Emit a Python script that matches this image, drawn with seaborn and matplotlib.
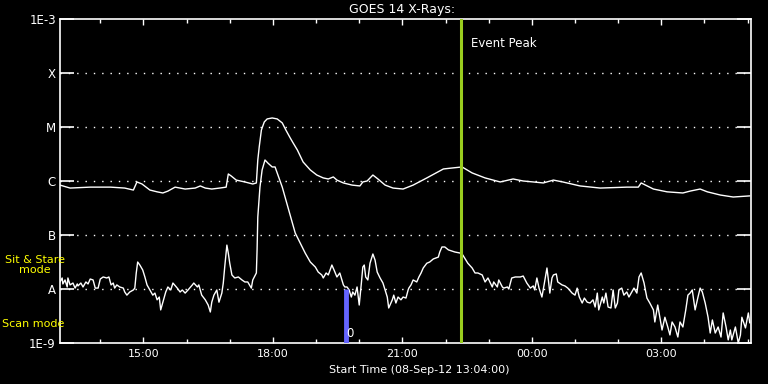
import numpy as np
import pandas as pd
import matplotlib
matplotlib.use("Agg")
import matplotlib.pyplot as plt
import matplotlib.dates as mdates
import seaborn as sns

# ---------------- data ----------------
start_time = "2012-09-08 13:04:00"
end_time = "2012-09-09 05:04:00"

# long channel (1-8 A), minutes after start, flux W/m^2
long_minutes = [0, 14, 42, 70, 90, 102, 107, 114, 125, 135, 143, 150, 160, 174, 188, 195, 202, 211,
                222, 231, 234, 238, 245, 257, 268, 273, 275, 277, 280, 284, 288, 295, 302, 309, 314,
                320, 324, 330, 338, 348, 357, 366, 373, 380, 385, 394, 406, 417, 421, 427, 435, 442,
                452, 463, 477, 491, 510, 533, 545, 559, 573, 591, 612, 630, 644, 658, 672, 686, 699,
                723, 751, 788, 804, 808, 825, 844, 866, 876, 890, 900, 918, 936, 959]
long_flux = [8.4e-7, 7.4e-7, 7.7e-7, 7.7e-7, 7.4e-7, 6.8e-7, 9.6e-7, 8.8e-7, 6.8e-7, 6.3e-7, 6.0e-7,
             6.5e-7, 7.7e-7, 7.1e-7, 7.4e-7, 8.1e-7, 7.4e-7, 7.1e-7, 7.4e-7, 7.7e-7, 1.35e-6, 1.24e-6,
             1.04e-6, 9.6e-7, 8.8e-7, 9.2e-7, 2.45e-6, 4.3e-6, 8.8e-6, 1.24e-5, 1.41e-5, 1.47e-5,
             1.41e-5, 1.19e-5, 8.8e-6, 6.3e-6, 5.1e-6, 3.75e-6, 2.25e-6, 1.6e-6, 1.29e-6, 1.14e-6,
             1.09e-6, 1.19e-6, 1.04e-6, 9.2e-7, 8.4e-7, 8.1e-7, 9.6e-7, 1.0e-6, 1.29e-6, 1.09e-6,
             8.4e-7, 7.4e-7, 7.1e-7, 8.4e-7, 1.14e-6, 1.67e-6, 1.74e-6, 1.82e-6, 1.41e-6, 1.14e-6,
             9.6e-7, 1.09e-6, 1.0e-6, 9.6e-7, 9.2e-7, 1.04e-6, 9.6e-7, 8.1e-7, 7.4e-7, 7.7e-7, 7.7e-7,
             9.2e-7, 7.1e-7, 6.3e-7, 6.0e-7, 6.5e-7, 7.1e-7, 6.3e-7, 5.5e-7, 5.05e-7, 5.3e-7]

# short channel (0.5-4 A)
short_minutes = [0, 3, 4, 7, 10, 11, 14, 18, 21, 24, 25, 29, 32, 36, 39, 42, 46, 49, 53, 56, 60, 65,
                 68, 71, 74, 76, 79, 83, 88, 90, 93, 97, 102, 104, 106, 108, 111, 115, 118, 121, 125,
                 129, 132, 135, 138, 140, 143, 147, 150, 154, 157, 163, 167, 170, 174, 178, 184, 186,
                 191, 193, 197, 202, 206, 209, 211, 214, 218, 221, 225, 227, 229, 232, 234, 236, 239,
                 243, 248, 253, 257, 261, 266, 268, 273, 274, 275, 278, 281, 285, 289, 295, 299, 303,
                 309, 316, 320, 327, 334, 341, 348, 355, 359, 364, 366, 370, 373, 378, 381, 385, 389,
                 392, 394, 396, 399, 402, 405, 407, 410, 413, 416, 419, 421, 423, 425, 428, 431, 435,
                 438, 441, 445, 449, 452, 455, 457, 462, 464, 467, 470, 474, 477, 481, 484, 485, 488,
                 491, 496, 499, 502, 505, 510, 514, 519, 526, 528, 531, 535, 540, 549, 556, 560, 567,
                 573, 577, 581, 587, 591, 595, 601, 603, 608, 610, 615, 617, 622, 624, 628, 633, 640,
                 644, 649, 654, 658, 660, 663, 666, 670, 673, 677, 679, 681, 684, 686, 690, 692, 698,
                 702, 706, 712, 716, 719, 722, 726, 729, 733, 737, 741, 744, 747, 749, 754, 756, 759,
                 762, 766, 769, 772, 775, 777, 781, 784, 788, 791, 795, 798, 802, 805, 808, 812, 816,
                 820, 825, 827, 831, 834, 837, 841, 845, 848, 851, 855, 859, 862, 866, 870, 873, 876,
                 879, 883, 887, 890, 893, 897, 901, 904, 907, 911, 915, 919, 922, 926, 929, 932, 934,
                 939, 943, 946, 948, 953, 957, 959]
short_flux = [1.35e-8, 1.6e-8, 1.24e-8, 1.47e-8, 1.09e-8, 1.6e-8, 1.19e-8, 1.29e-8, 1.04e-8, 1.24e-8,
              1.14e-8, 1.29e-8, 1.09e-8, 1.35e-8, 1.24e-8, 1.53e-8, 1.47e-8, 1.04e-8, 1.04e-8, 1.53e-8,
              1.67e-8, 1.6e-8, 1.67e-8, 1.19e-8, 1.29e-8, 1.04e-8, 1.19e-8, 1.09e-8, 1.04e-8, 8.8e-9,
              7.7e-9, 8.8e-9, 9.6e-9, 1.04e-8, 1.98e-8, 3.16e-8, 2.78e-8, 2.25e-8, 1.67e-8, 1.19e-8,
              9.6e-9, 7.7e-9, 8.4e-9, 6.3e-9, 7.1e-9, 4.1e-9, 5.7e-9, 8.8e-9, 1.09e-8, 9.6e-9, 1.29e-8,
              1.04e-8, 8.8e-9, 9.6e-9, 8.4e-9, 9.6e-9, 1.19e-8, 1.29e-8, 1.09e-8, 1.19e-8, 7.7e-9,
              6.3e-9, 5.05e-9, 3.75e-9, 5.7e-9, 7.7e-9, 9.6e-9, 5.7e-9, 8.4e-9, 1.29e-8, 2.55e-8,
              6.5e-8, 4.6e-8, 3.0e-8, 1.82e-8, 1.6e-8, 1.67e-8, 1.47e-8, 1.35e-8, 1.35e-8, 1.04e-8,
              1.47e-8, 1.98e-8, 5.3e-8, 2.15e-7, 7.7e-7, 1.6e-6, 2.45e-6, 2.15e-6, 1.82e-6, 1.82e-6,
              1.29e-6, 7.7e-7, 3.6e-7, 2.35e-7, 1.09e-7, 7.1e-8, 4.6e-8, 3.16e-8, 2.55e-8, 2.06e-8,
              1.82e-8, 1.6e-8, 1.98e-8, 1.82e-8, 2.78e-8, 2.25e-8, 1.67e-8, 1.98e-8, 1.47e-8, 1.19e-8,
              1.09e-8, 1.09e-8, 9.6e-9, 7.1e-9, 8.8e-9, 7.7e-9, 1.09e-8, 5.05e-9, 1.29e-8, 2.55e-8,
              2.78e-8, 1.67e-8, 1.47e-8, 3.0e-8, 4.45e-8, 3.44e-8, 2.06e-8, 1.6e-8, 1.29e-8, 9.6e-9,
              7.1e-9, 4.45e-9, 6.3e-9, 7.7e-9, 5.5e-9, 7.1e-9, 6.3e-9, 7.1e-9, 6.8e-9, 9.6e-9, 1.04e-8,
              1.19e-8, 1.47e-8, 1.35e-8, 1.67e-8, 1.98e-8, 2.45e-8, 3.0e-8, 3.16e-8, 3.6e-8, 3.9e-8,
              4.84e-8, 6.0e-8, 6.0e-8, 5.3e-8, 4.84e-8, 4.64e-8, 4.26e-8, 3.0e-8, 2.45e-8, 1.98e-8,
              1.98e-8, 1.82e-8, 1.35e-8, 1.6e-8, 1.09e-8, 1.35e-8, 1.09e-8, 1.47e-8, 1.09e-8, 1.04e-8,
              1.09e-8, 1.0e-8, 1.6e-8, 1.67e-8, 1.67e-8, 1.74e-8, 1.29e-8, 1.04e-8, 1.14e-8, 9.6e-9,
              1.6e-8, 1.04e-8, 7.1e-9, 1.19e-8, 2.45e-8, 1.47e-8, 8.4e-9, 1.6e-8, 1.82e-8, 1.9e-8,
              1.35e-8, 1.19e-8, 1.14e-8, 1.04e-8, 8.4e-9, 7.7e-9, 1.04e-8, 7.1e-9, 5.5e-9, 6.8e-9,
              5.7e-9, 5.5e-9, 6.3e-9, 4.64e-9, 8.4e-9, 4.1e-9, 7.1e-9, 5.5e-9, 8.4e-9, 4.64e-9, 4.45e-9,
              9.6e-9, 4.45e-9, 5.5e-9, 9.6e-9, 1.04e-8, 7.7e-9, 8.8e-9, 7.1e-9, 8.8e-9, 1.04e-8, 8.4e-9,
              1.67e-8, 1.98e-8, 1.29e-8, 6.8e-9, 5.5e-9, 4.1e-9, 2.45e-9, 5.05e-9, 3.0e-9, 1.74e-9,
              3.0e-9, 1.98e-9, 1.41e-9, 2.45e-9, 1.98e-9, 1.29e-9, 2.45e-9, 1.98e-9, 4.1e-9, 7.7e-9,
              8.4e-9, 9.6e-9, 4.1e-9, 7.1e-9, 1.04e-8, 8.8e-9, 5.5e-9, 3.0e-9, 1.53e-9, 2.67e-9, 1.53e-9,
              1.98e-9, 1.29e-9, 3.6e-9, 1.98e-9, 1.14e-9, 1.74e-9, 1.14e-9, 1.98e-9, 1.0e-9, 1.41e-9,
              3.0e-9, 1.9e-9, 3.6e-9, 2.35e-9]

ytick_values = [1e-9, 1e-8, 1e-7, 1e-6, 1e-5, 1e-4, 1e-3]
ytick_labels = ["1E-9", "A", "B", "C", "M", "X", "1E-3"]
grid_levels = [1e-8, 1e-7, 1e-6, 1e-5, 1e-4]

event_peak_time = "2012-09-08 22:21:00"
event_peak_label = "Event Peak"
mode_change_time = "2012-09-08 19:41:00"
mode_change_label = "0"
mode_labels = ["Sit & Stare\nmode", "Scan mode"]
title = "GOES 14 X-Rays:"
xlabel = "Start Time (08-Sep-12 13:04:00)"

# ---------------- build frames ----------------
t0 = pd.Timestamp(start_time)
df_long = pd.DataFrame({"time": t0 + pd.to_timedelta(long_minutes, unit="m"),
                        "flux": long_flux, "channel": "long"})
df_short = pd.DataFrame({"time": t0 + pd.to_timedelta(short_minutes, unit="m"),
                         "flux": short_flux, "channel": "short"})
df = pd.concat([df_long, df_short], ignore_index=True)

sns.set_theme(style="dark")
plt.rcParams["font.family"] = ["DejaVu Sans"]

fig = plt.figure(figsize=(7.68, 3.84), dpi=100, facecolor="black")
ax = fig.add_axes([60 / 768, 1 - 343 / 384, 690.5 / 768, 324 / 384])
ax.set_facecolor("black")

sns.lineplot(data=df, x="time", y="flux", units="channel", estimator=None,
             color="white", linewidth=1.0, ax=ax, legend=False)

ax.set_yscale("log")
ax.set_ylim(1e-9, 1e-3)
ax.set_xlim(pd.Timestamp(start_time), pd.Timestamp(end_time))

# grid lines
for lvl in grid_levels:
    ax.axhline(lvl, color="white", linestyle=(0, (1, 5)), linewidth=1.0, zorder=1)

# event peak and mode change markers
ax.axvline(pd.Timestamp(event_peak_time), color="#9acd1e", linewidth=2.2, zorder=3)
ax.text(pd.Timestamp(event_peak_time) + pd.Timedelta(minutes=15), 10 ** -3.45, event_peak_label,
        color="white", fontsize=8.5, va="center", ha="left")
ax.vlines(pd.Timestamp(mode_change_time), 1e-9, 1e-8, color="#6464ff", linewidth=3.5, zorder=3)
ax.text(pd.Timestamp(mode_change_time) + pd.Timedelta(minutes=1), 10 ** -8.82, mode_change_label,
        color="white", fontsize=8.5, va="center", ha="left")

# axes styling
for sp in ax.spines.values():
    sp.set_color("white")
    sp.set_linewidth(1.2)
    sp.set_visible(True)

ax.set_yticks(ytick_values)
ax.set_yticklabels(ytick_labels)
ax.yaxis.set_minor_locator(matplotlib.ticker.NullLocator())
ax.tick_params(axis="y", which="major", direction="in", length=10, width=1.2,
               colors="white", left=True, right=True, labelsize=8.5, pad=3)

ax.xaxis.set_major_locator(mdates.HourLocator(byhour=[0, 3, 6, 9, 12, 15, 18, 21]))
ax.xaxis.set_minor_locator(mdates.HourLocator())
ax.xaxis.set_major_formatter(mdates.DateFormatter("%H:%M"))
ax.tick_params(axis="x", which="major", direction="in", length=4.3, width=1.0,
               colors="white", top=True, bottom=True, labelsize=8, pad=4.5)
ax.tick_params(axis="x", which="minor", direction="in", length=2.9, width=1.0,
               colors="white", top=True, bottom=True)
ax.grid(False)
ax.set_xlabel("")
ax.set_ylabel("")

fig.text(402 / 768, 1 - 9 / 384, title, color="white", fontsize=9, ha="center", va="center")
fig.text(419 / 768, 1 - 370 / 384, xlabel, color="white", fontsize=8, ha="center", va="center")
fig.text(35 / 768, 1 - 265 / 384, mode_labels[0], color="yellow", fontsize=8,
         ha="center", va="center", linespacing=1.05)
fig.text(2 / 768, 1 - 324 / 384, mode_labels[1], color="yellow", fontsize=8,
         ha="left", va="center")

fig.savefig("out.png", dpi=100, facecolor="black")
